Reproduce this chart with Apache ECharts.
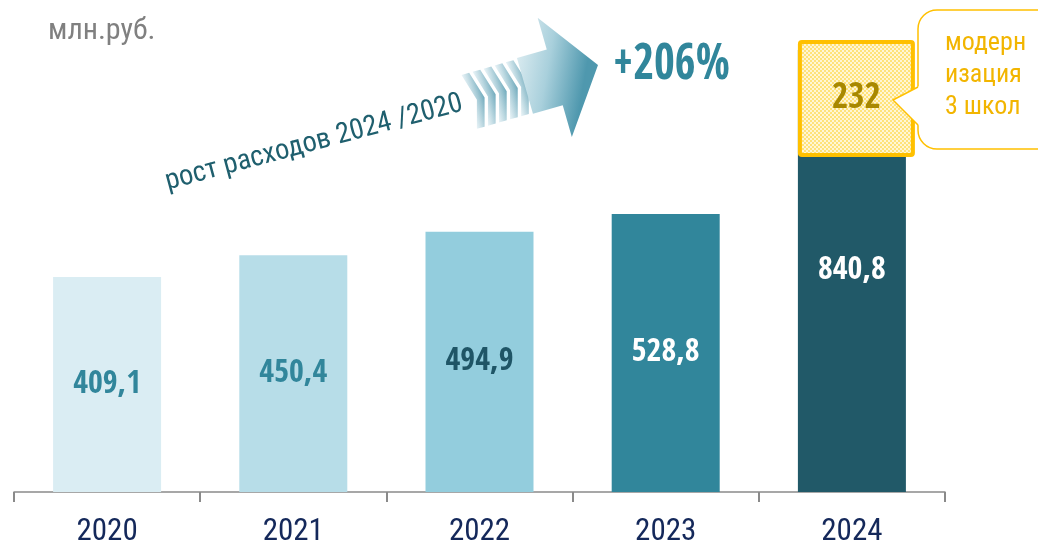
<!DOCTYPE html>
<html>
<head>
<meta charset="utf-8">
<script src="https://cdn.jsdelivr.net/npm/echarts@6/dist/echarts.min.js"></script>
<style>
  html, body { margin: 0; padding: 0; background: #fff; }
  #chart { width: 1038px; height: 544px; }
</style>
</head>
<body>
<div id="chart"></div>
<script>
// данные
const years = ['2020', '2021', '2022', '2023', '2024'];
const spending = [409.1, 450.4, 494.9, 528.8, 840.8];
const modernization = 232;       // часть 2024 года
const growthLabel = '+206%';
const unitLabel = 'млн.руб.';
const growthCaption = 'рост расходов 2024 /2020';
const noteLines = ['модерн', 'изация', '3 школ'];

const barColors = ['#daedf3', '#b7dde8', '#93cddd', '#31869b', '#215968'];
const labelColors = ['#31869b', '#31869b', '#1f5566', '#ffffff', '#ffffff'];
const narrow = '"Roboto Condensed", "DejaVu Sans Condensed", sans-serif';
const heavy = '"Open Sans Condensed", "Roboto Condensed", sans-serif';

function fmt(v) {
    return String(v).replace('.', ',');
}

// точечная заливка для жёлтого блока
function makePattern() {
    const c = document.createElement('canvas');
    c.width = 4; c.height = 4;
    const ctx = c.getContext('2d');
    ctx.fillStyle = '#ffe27a';
    ctx.fillRect(0, 0, 4, 4);
    ctx.fillStyle = '#fff6d6';
    ctx.fillRect(0, 0, 2, 2);
    ctx.fillRect(2, 2, 2, 2);
    return c;
}
const pattern = makePattern();

const chart = echarts.init(document.getElementById('chart'));
const rot = 16 * Math.PI / 180;

// стрелка (локальные координаты, острие в 0,0)
const arrowStripes = [];
for (let i = 0; i < 5; i++) {
    const u = -134 + i * 11.5;
    arrowStripes.push({
        type: 'polygon',
        shape: { points: [[u, -28], [u + 8, -28], [u + 16, 0], [u + 8, 28], [u, 28], [u + 8, 0]] },
        style: {
            fill: {
                type: 'linear', x: 0, y: 0, x2: 1, y2: 0,
                colorStops: [{ offset: 0, color: 'rgba(225,239,244,0.7)' }, { offset: 1, color: 'rgba(86,155,176,0.85)' }]
            }
        }
    });
}

const option = {
    animation: false,
    grid: { left: 14, right: 93, top: 0, bottom: 52, outerBoundsMode: 'none', containLabel: false },
    xAxis: {
        type: 'category',
        data: years,
        axisLine: { show: true, lineStyle: { color: '#8a8a8a', width: 1.5 } },
        axisTick: { show: true, length: 10, lineStyle: { color: '#8a8a8a', width: 2 } },
        axisLabel: { color: '#14285a', fontSize: 31, fontFamily: narrow, margin: 25 }
    },
    yAxis: { type: 'value', min: 0, max: 936, show: false, splitLine: { show: false } },
    series: [
        {
            type: 'bar',
            barWidth: 108,
            data: spending.map((v, i) => ({
                value: v,
                itemStyle: { color: barColors[i] },
                label: { color: labelColors[i] }
            })),
            label: {
                show: true,
                position: 'inside',
                fontFamily: heavy,
                fontWeight: 'bold',
                fontSize: 32,
                formatter: p => fmt(p.value)
            },
            z: 2
        },
        {
            type: 'custom',
            z: 5,
            data: [[4, spending[4], modernization]],
            renderItem: function (params, api) {
                const top = api.coord([api.value(0), api.value(1)]);
                const bot = api.coord([api.value(0), api.value(1) - api.value(2)]);
                const x = top[0] - 52, y = top[1] - 8;
                const w = 113, h = bot[1] - top[1] - 9;
                return {
                    type: 'group',
                    children: [
                        {
                            type: 'rect',
                            shape: { x: x, y: y, width: w, height: h, r: 2 },
                            style: { fill: { image: pattern, repeat: 'repeat' }, stroke: '#ffc000', lineWidth: 4 }
                        },
                        {
                            type: 'text',
                            style: {
                                x: x + w / 2, y: y + h / 2,
                                text: String(api.value(2)),
                                align: 'center', verticalAlign: 'middle',
                                fill: '#a88800', font: 'bold 35px ' + heavy
                            }
                        }
                    ]
                };
            }
        }
    ],
    graphic: [
        {
            type: 'text', x: 48, y: 31,
            style: { text: unitLabel, fill: '#808080', font: '30px ' + narrow, verticalAlign: 'middle' }
        },
        // выноска
        {
            type: 'rect', z: 10,
            shape: { x: 918, y: 10, width: 140, height: 139, r: 19 },
            style: { fill: '#ffffff', stroke: '#ffc000', lineWidth: 1.5 }
        },
        {
            type: 'polygon', z: 11,
            shape: { points: [[919.5, 86], [893, 100], [919.5, 126]] },
            style: { fill: '#ffffff' }
        },
        {
            type: 'polyline', z: 11,
            shape: { points: [[918, 87], [893, 100], [918, 125]] },
            style: { stroke: '#ffc000', lineWidth: 1.5, fill: null }
        },
        ...noteLines.map((t, i) => ({
            type: 'text', x: 945, y: 43 + i * 32, z: 12,
            style: { text: t, fill: '#f2b500', font: '26px ' + narrow, verticalAlign: 'middle' }
        })),
        // стрелка роста
        {
            type: 'group', x: 598, y: 65, rotation: rot,
            children: arrowStripes.concat([
                {
                    type: 'polygon',
                    shape: { points: [[0, 0], [-45, -62], [-45, -29], [-76, -29], [-76, 29], [-45, 29], [-45, 62]] },
                    style: {
                        fill: {
                            type: 'linear', x: 0, y: 0, x2: 1, y2: 0.3,
                            colorStops: [{ offset: 0, color: '#eef6f8' }, { offset: 0.55, color: '#a9d0dc' }, { offset: 1, color: '#4f98ae' }]
                        }
                    }
                }
            ])
        },
        {
            type: 'text', x: 314, y: 143, rotation: 15 * Math.PI / 180,
            style: { text: growthCaption, fill: '#1f5f6e', font: '28.5px ' + narrow, align: 'center', verticalAlign: 'middle' }
        },
        {
            type: 'text', x: 613, y: 66, scaleX: 0.9,
            style: { text: growthLabel, fill: '#31869b', font: 'bold 50px ' + heavy, verticalAlign: 'middle' }
        }
    ]
};

chart.setOption(option);
</script>
</body>
</html>
